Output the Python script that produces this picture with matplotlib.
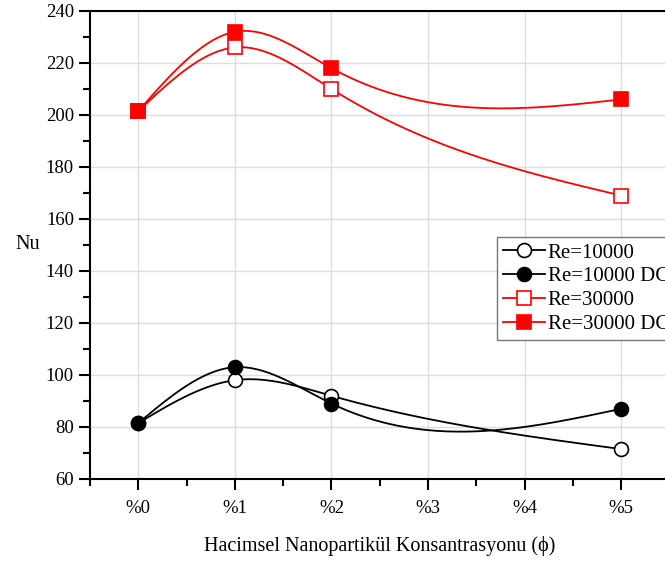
import numpy as np
import matplotlib.pyplot as plt
from matplotlib.ticker import MultipleLocator

plt.rcParams['font.family'] = ['Liberation Serif', 'DejaVu Serif']

# Veriler
kategoriler = ['%0', '%1', '%2', '%3', '%4', '%5']
x_nokta = [0, 1, 2, 5]
re10000 = [81.5, 98, 92, 71.5]
re10000_dc = [81.5, 103, 89, 87]
re30000 = [201.5, 226, 210, 169]
re30000_dc = [201.5, 232, 218, 206]


def dogal_spline(x, y, n=200):
    # dogal kubik spline (Origin'deki gibi yumusak egri)
    x = np.asarray(x, float)
    y = np.asarray(y, float)
    k = len(x)
    h = np.diff(x)
    A = np.zeros((k, k))
    b = np.zeros(k)
    A[0, 0] = A[-1, -1] = 1
    for i in range(1, k - 1):
        A[i, i - 1] = h[i - 1]
        A[i, i] = 2 * (h[i - 1] + h[i])
        A[i, i + 1] = h[i]
        b[i] = 6 * ((y[i + 1] - y[i]) / h[i] - (y[i] - y[i - 1]) / h[i - 1])
    M = np.linalg.solve(A, b)
    xs = np.linspace(x[0], x[-1], n)
    ys = np.empty_like(xs)
    for j, t in enumerate(xs):
        i = min(np.searchsorted(x, t, side='right') - 1, k - 2)
        a = x[i + 1] - t
        c = t - x[i]
        ys[j] = (M[i] * a**3 + M[i + 1] * c**3) / (6 * h[i]) \
            + (y[i] / h[i] - M[i] * h[i] / 6) * a \
            + (y[i + 1] / h[i] - M[i + 1] * h[i] / 6) * c
    return xs, ys


fig = plt.figure(figsize=(6.65, 5.61), dpi=100)
ax = fig.add_axes([0.1353, 0.1462, 0.8716, 0.8342])

seriler = [
    (re10000, 'Re=10000', 'black', 'o', 'white', 10),
    (re10000_dc, 'Re=10000 DC', 'black', 'o', 'black', 10),
    (re30000, 'Re=30000', 'red', 's', 'white', 9.5),
    (re30000_dc, 'Re=30000 DC', 'red', 's', 'red', 9.5),
]
for y, etiket, renk, isaret, dolgu, ms in seriler:
    xs, ys = dogal_spline(x_nokta, y)
    ax.plot(xs, ys, color=renk, lw=1.3, zorder=3)
    ax.plot(x_nokta, y, ls='none', marker=isaret, ms=ms, mfc=dolgu,
            mec=renk, mew=1.2, zorder=4)
    ax.plot([], [], color=renk, lw=1.3, marker=isaret, ms=ms, mfc=dolgu,
            mec=renk, mew=1.2, label=etiket)

ax.set_xlim(-0.5, 5.5)
ax.set_ylim(60, 240)
ax.set_xticks(range(6))
ax.set_xticklabels(kategoriler)
ax.xaxis.set_minor_locator(MultipleLocator(0.5))
ax.yaxis.set_major_locator(MultipleLocator(20))
ax.yaxis.set_minor_locator(MultipleLocator(10))
ax.grid(True, which='major', color='#dddddd', lw=1, zorder=0)
ax.set_axisbelow(True)

for s in ax.spines.values():
    s.set_linewidth(1.5)
ax.tick_params(which='major', direction='out', length=8, width=1.5,
               labelsize=13.5)
ax.tick_params(which='minor', direction='out', length=5, width=1.5)
ax.tick_params(axis='x', pad=7)

ax.set_xlabel('Hacimsel Nanopartikül Konsantrasyonu (ϕ)', fontsize=14.5,
              labelpad=14)
ax.set_ylabel('Nu', fontsize=14.5, rotation=0, va='center', ha='center')
ax.yaxis.set_label_coords(-0.107, 0.5)

leg = ax.legend(loc='upper left', bbox_to_anchor=(0.747, 0.578),
                bbox_transform=fig.transFigure, fontsize=15,
                frameon=True, fancybox=False, edgecolor='#555555',
                handlelength=2.0, borderpad=0.3, labelspacing=0.2,
                handletextpad=0.15, borderaxespad=0)
leg.get_frame().set_linewidth(1)

fig.savefig('out.png', dpi=100)
